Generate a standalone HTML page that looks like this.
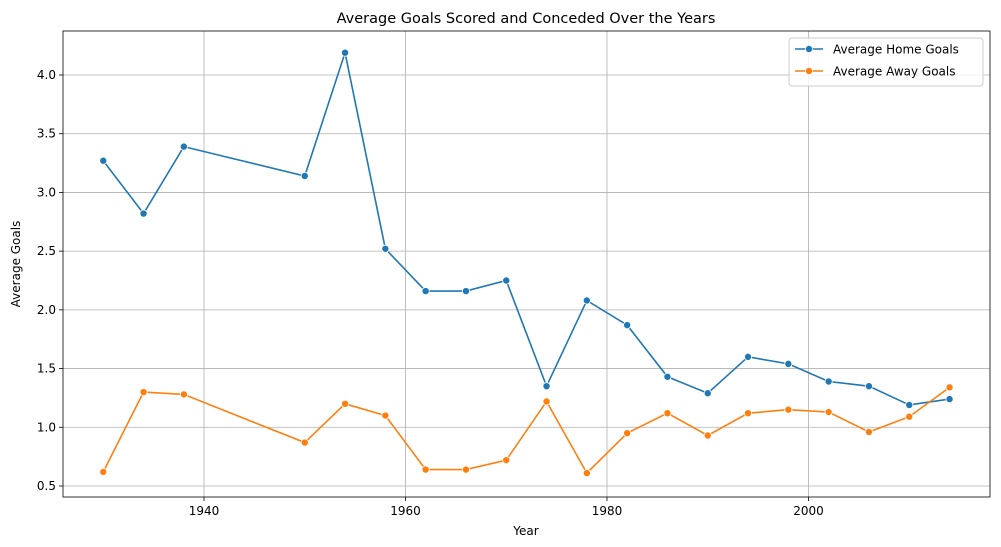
<!DOCTYPE html>
<html><head><meta charset="utf-8"><style>
body{margin:0;background:#fff;}
svg{display:block;font-family:"DejaVu Sans","Liberation Sans",sans-serif;}
</style></head><body>
<svg id="chart" width="1001" height="547"></svg>
<script>
const years=[1930,1934,1938,1950,1954,1958,1962,1966,1970,1974,1978,1982,1986,1990,1994,1998,2002,2006,2010,2014];
const homeGoals=[3.27,2.82,3.39,3.14,4.19,2.52,2.16,2.16,2.25,1.35,2.08,1.87,1.43,1.29,1.60,1.54,1.39,1.35,1.19,1.24];
const awayGoals=[0.62,1.30,1.28,0.87,1.20,1.10,0.64,0.64,0.72,1.22,0.61,0.95,1.12,0.93,1.12,1.15,1.13,0.96,1.09,1.34];
const xTicks=[1940,1960,1980,2000];
const yTicks=[0.5,1.0,1.5,2.0,2.5,3.0,3.5,4.0];
const svg=document.getElementById('chart');
const NS='http://www.w3.org/2000/svg';
const L=63,R=990,T=31,B=497;
const xs=y=>204+(y-1940)*(201.5/20);
const ys=v=>486-(v-0.5)*(411/3.5);
function mk(tag,attrs,parent){const e=document.createElementNS(NS,tag);for(const k in attrs)e.setAttribute(k,attrs[k]);(parent||svg).appendChild(e);return e;}
// grid + ticks
xTicks.forEach(t=>{
  const g=mk('line',{x1:xs(t),x2:xs(t),y1:T,y2:B,stroke:'#b0b0b0','stroke-width':0.8});
  
  
  mk('line',{x1:xs(t),x2:xs(t),y1:B,y2:B+4,stroke:'#000','stroke-width':0.8});
  const tx=mk('text',{x:xs(t),y:B+18,'text-anchor':'middle','font-size':12});
  tx.textContent=t;
  
  
});
yTicks.forEach(t=>{
  const g=mk('line',{x1:L,x2:R,y1:ys(t),y2:ys(t),stroke:'#b0b0b0','stroke-width':0.8});
  
  
  mk('line',{x1:L-4,x2:L,y1:ys(t),y2:ys(t),stroke:'#000','stroke-width':0.8});
  const tx=mk('text',{x:L-7,y:ys(t)+4,'text-anchor':'end','font-size':12});
  tx.textContent=t.toFixed(1);
  
  
});
function series(vals,color,name){
  const p=mk('polyline',{points:years.map((y,i)=>xs(y)+','+ys(vals[i])).join(' '),fill:'none',stroke:color,'stroke-width':1.6});
  
  
  years.forEach((y,i)=>{
    const c=mk('circle',{cx:xs(y),cy:ys(vals[i]),r:3.6,fill:color,stroke:'#fff','stroke-width':0.8});
    
    
  });
}
series(homeGoals,'#1f77b4','home-goals');
series(awayGoals,'#ff7f0e','away-goals');
</script>
<svg width="1001" height="547" style="position:absolute;left:0;top:0;font-family:'DejaVu Sans','Liberation Sans',sans-serif;">
<rect x="63" y="31" width="927" height="466" fill="none" stroke="#000" stroke-width="0.8"/>
<text x="526" y="23" text-anchor="middle" font-size="14.5">Average Goals Scored and Conceded Over the Years</text>
<text x="526" y="535" text-anchor="middle" font-size="12">Year</text>
<text transform="translate(20,264) rotate(-90)" text-anchor="middle" font-size="12">Average Goals</text>
<g>
<rect x="789" y="38" width="194" height="48" rx="3" fill="#fff" fill-opacity="0.8" stroke="#ccc"/>
<g>
<line x1="795" x2="823" y1="49" y2="49" stroke="#1f77b4" stroke-width="1.6"/><circle cx="809" cy="49" r="3.6" fill="#1f77b4" stroke="#fff" stroke-width="0.8"/>
<text x="833" y="53.5" font-size="12">Average Home Goals</text></g>
<g>
<line x1="795" x2="823" y1="71" y2="71" stroke="#ff7f0e" stroke-width="1.6"/><circle cx="809" cy="71" r="3.6" fill="#ff7f0e" stroke="#fff" stroke-width="0.8"/>
<text x="833" y="75.5" font-size="12">Average Away Goals</text></g>
</g>
</svg>
</body></html>
